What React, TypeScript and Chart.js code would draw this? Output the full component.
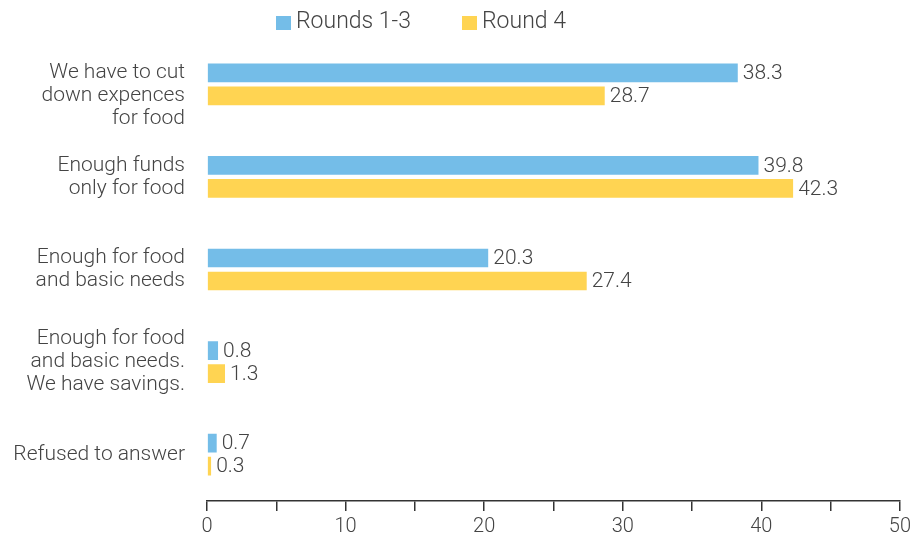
import React, { useEffect, useRef } from "react";
import { Chart, registerables } from "chart.js";

Chart.register(...registerables);

const categories: string[][] = [
  ["", "We have to cut", "down expences", "for food"],
  ["Enough funds", "only for food"],
  ["Enough for food", "and basic needs"],
  ["Enough for food", "and basic needs.", "We have savings."],
  ["Refused to answer"],
];
const seriesNames = ["Rounds 1-3", "Round 4"];
const rounds13 = [38.3, 39.8, 20.3, 0.8, 0.7];
const round4 = [28.7, 42.3, 27.4, 1.3, 0.3];
const xTickLabels = [0, 10, 20, 30, 40, 50];

const BLUE = "#74BDE8";
const YELLOW = "#FFD452";
const TEXT = "#444444";
const FONT = "Roboto, 'Liberation Sans', sans-serif";

const valueLabels = {
  id: "valueLabels",
  afterDatasetsDraw(chart: any) {
    const ctx = chart.ctx;
    ctx.save();
    ctx.font = `300 21px ${FONT}`;
    ctx.fillStyle = TEXT;
    ctx.textAlign = "left";
    ctx.textBaseline = "middle";
    chart.data.datasets.forEach((ds: any, di: number) => {
      const meta = chart.getDatasetMeta(di);
      meta.data.forEach((bar: any, i: number) => {
        ctx.fillText(String(ds.data[i]), bar.x + 5, bar.y + 1);
      });
    });
    ctx.restore();
  },
};

const customLegend = {
  id: "customLegend",
  afterDraw(chart: any) {
    const ctx = chart.ctx;
    const colors = [BLUE, YELLOW];
    const starts = [276, 462];
    ctx.save();
    ctx.font = `300 23px ${FONT}`;
    ctx.textAlign = "left";
    ctx.textBaseline = "alphabetic";
    seriesNames.forEach((name, i) => {
      ctx.fillStyle = colors[i];
      ctx.fillRect(starts[i], 16, 15, 14);
      ctx.fillStyle = TEXT;
      ctx.fillText(name, starts[i] + 20, 28);
    });
    ctx.restore();
  },
};

export default function App() {
  const ref = useRef<HTMLCanvasElement>(null);
  useEffect(() => {
    const chart = new Chart(ref.current!, {
      type: "bar",
      data: {
        labels: categories,
        datasets: [
          {
            label: seriesNames[0],
            data: rounds13,
            backgroundColor: BLUE,
            borderColor: "#ffffff",
            borderWidth: { top: 2.5, bottom: 2.5, left: 0, right: 0 },
            borderSkipped: false,
            barThickness: 23,
          },
          {
            label: seriesNames[1],
            data: round4,
            backgroundColor: YELLOW,
            borderColor: "#ffffff",
            borderWidth: { top: 2.5, bottom: 2.5, left: 0, right: 0 },
            borderSkipped: false,
            barThickness: 23,
          },
        ],
      },
      options: {
        indexAxis: "y",
        animation: false,
        responsive: false,
        maintainAspectRatio: false,
        layout: { padding: { left: 0, right: 15, top: 38, bottom: 0 } },
        plugins: {
          legend: { display: false },
          tooltip: { enabled: false },
        },
        scales: {
          x: {
            min: 0,
            max: 50,
            ticks: {
              stepSize: 5,
              color: TEXT,
              font: { family: FONT, size: 20, weight: "300" },
              maxRotation: 0,
              autoSkip: false,
              padding: 4,
              callback: (v: any) =>
                xTickLabels.includes(Number(v)) ? String(v) : "",
            },
            grid: {
              display: true,
              drawOnChartArea: false,
              drawTicks: true,
              tickLength: 10,
              color: "#333333",
              lineWidth: 1.5,
            },
            border: { display: true, color: "#333333", width: 1.5 },
            afterFit: (scale: any) => {
              scale.height = 35;
            },
          },
          y: {
            ticks: {
              color: TEXT,
              autoSkip: false,
              font: { family: FONT, size: 21, weight: "300", lineHeight: 23 / 21 },
              padding: 22,
            },
            grid: { display: false, drawTicks: false },
            border: { display: false },
            afterFit: (scale: any) => {
              scale.width = 207;
              scale.paddingTop = 0;
              scale.paddingBottom = 0;
            },
          },
        },
      },
      plugins: [valueLabels, customLegend],
    });
    return () => chart.destroy();
  }, []);
  return (
    <div style={{ position: "fixed", left: 0, top: 0, width: 915, height: 536 }}>
      <canvas ref={ref} width={915} height={536} />
    </div>
  );
}
